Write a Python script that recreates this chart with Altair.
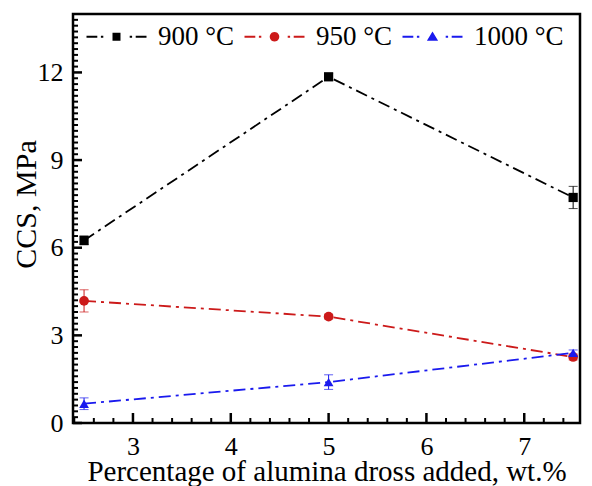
import altair as alt
import pandas as pd
import numpy as np
import math

# ---- data ----
x_vals = [2.5, 5.0, 7.5]
series_names = ["900 °C", "950 °C", "1000 °C"]
ccs_900 = [6.25, 11.85, 7.72]
err_900 = [0.15, 0.12, 0.38]
ccs_950 = [4.18, 3.64, 2.26]
err_950 = [0.38, 0.08, 0.10]
ccs_1000 = [0.66, 1.40, 2.40]
err_1000 = [0.20, 0.25, 0.10]

y_major = [0, 3, 6, 9, 12]
x_major = [3, 4, 5, 6, 7]
y_minor = [round(v, 1) for v in np.arange(0.2, 14.0, 0.2) if abs(v / 3 - round(v / 3)) > 1e-6]
x_minor = [round(v, 1) for v in np.arange(2.4, 7.6, 0.2) if abs(v - round(v)) > 1e-6]

colors = ["#000000", "#cc1a1a", "#1a1aee"]
marks = ["square", "circle", "triangle-up"]

rows = []
for name, ys_, es in zip(series_names, [ccs_900, ccs_950, ccs_1000], [err_900, err_950, err_1000]):
    for x, y, e in zip(x_vals, ys_, es):
        rows.append({"x": x, "y": y, "lo": y - e, "hi": y + e, "series": name})
df = pd.DataFrame(rows)

W, H = 507, 409
FONT = "Liberation Serif"
XDOM = [2.387, 7.57]
YDOM = [0, 14]

xs = alt.Scale(domain=XDOM, nice=False, zero=False)
ys = alt.Scale(domain=YDOM, nice=False, zero=False)
cs = alt.Scale(domain=series_names, range=colors)

# custom legend symbols: dash-dot line with marker in the middle
dash = ("M-7.5,-0.22L-4.8,-0.22L-4.8,0.22L-7.5,0.22Z M-3.9,-0.22L-3.3,-0.22L-3.3,0.22L-3.9,0.22Z "
        "M3.3,-0.22L3.9,-0.22L3.9,0.22L3.3,0.22Z M4.8,-0.22L7.5,-0.22L7.5,0.22L4.8,0.22Z ")
circ_pts = [(1.2 * math.cos(2 * math.pi * k / 20), 1.2 * math.sin(2 * math.pi * k / 20)) for k in range(20)]
circle_path = "M" + "L".join(f"{px:.3f},{py:.3f}" for px, py in circ_pts) + "Z"
sym_paths = [
    dash + "M-1,-1L1,-1L1,1L-1,1Z",
    dash + circle_path,
    dash + "M0,-1.3L1.4,1L-1.4,1Z",
]

xaxis = alt.Axis(values=x_major, ticks=False, domain=False, grid=False,
                 labelFont=FONT, labelFontSize=26, labelColor="black",
                 labelPadding=10, title="Percentage of alumina dross added, wt.%",
                 titleFont=FONT, titleFontSize=29, titleFontWeight="normal",
                 titleColor="black", titleBaseline="alphabetic", titleY=57)
yaxis = alt.Axis(values=y_major, ticks=False, domain=False, grid=False,
                 labelFont=FONT, labelFontSize=26, labelColor="black",
                 labelPadding=10, title="CCS, MPa",
                 titleFont=FONT, titleFontSize=30, titleFontWeight="normal",
                 titleColor="black", titleBaseline="bottom", titleX=-32, titleY=190)

legend = alt.Legend(
    orient="none", legendX=30, legendY=9, direction="horizontal", title=None,
    symbolSize=64, symbolStrokeWidth=0, symbolOpacity=1,
    labelFont=FONT, labelFontSize=27, labelColor="black", labelOffset=28,
    columnPadding=9)

color = alt.Color("series:N", scale=cs, legend=legend)

base = alt.Chart(df)

lines = base.mark_line(strokeDash=[12, 5, 3, 5], strokeWidth=1.8).encode(
    x=alt.X("x:Q", scale=xs, axis=xaxis),
    y=alt.Y("y:Q", scale=ys, axis=yaxis),
    color=color,
)

err_rule = base.mark_rule(strokeWidth=1).encode(
    x=alt.X("x:Q", scale=xs, axis=xaxis), y=alt.Y("lo:Q", scale=ys, axis=yaxis), y2="hi:Q",
    color=color,
)
cap_lo = base.mark_tick(orient="horizontal", size=9, thickness=1).encode(
    x=alt.X("x:Q", scale=xs, axis=xaxis), y=alt.Y("lo:Q", scale=ys, axis=yaxis),
    color=color,
)
cap_hi = base.mark_tick(orient="horizontal", size=9, thickness=1).encode(
    x=alt.X("x:Q", scale=xs, axis=xaxis), y=alt.Y("hi:Q", scale=ys, axis=yaxis),
    color=color,
)

point_layers = []
for name, shp, sz in zip(series_names, marks, [85, 95, 95]):
    point_layers.append(
        base.transform_filter(alt.datum.series == name)
        .mark_point(filled=True, shape=shp, size=sz, opacity=1)
        .encode(x=alt.X("x:Q", scale=xs, axis=xaxis), y=alt.Y("y:Q", scale=ys, axis=yaxis),
                color=color)
    )

legend_layer = base.transform_filter("false").mark_point(filled=True, opacity=1).encode(
    x=alt.X("x:Q", scale=xs, axis=xaxis), y=alt.Y("y:Q", scale=ys, axis=yaxis),
    color=color,
    shape=alt.Shape("series:N", scale=alt.Scale(domain=series_names, range=sym_paths),
                    legend=legend),
)

# inward ticks
ytick_major = alt.Chart(pd.DataFrame({"v": y_major})).mark_rule(strokeWidth=2.5, color="black").encode(
    y=alt.Y("v:Q", scale=ys, axis=yaxis), x=alt.value(0), x2=alt.value(9))
ytick_minor = alt.Chart(pd.DataFrame({"v": y_minor})).mark_rule(strokeWidth=2, color="black").encode(
    y=alt.Y("v:Q", scale=ys, axis=yaxis), x=alt.value(0), x2=alt.value(5))
xtick_major = alt.Chart(pd.DataFrame({"v": x_major})).mark_rule(strokeWidth=2.5, color="black").encode(
    x=alt.X("v:Q", scale=xs, axis=xaxis), y=alt.value(H), y2=alt.value(H - 10))
xtick_minor = alt.Chart(pd.DataFrame({"v": x_minor})).mark_rule(strokeWidth=2, color="black").encode(
    x=alt.X("v:Q", scale=xs, axis=xaxis), y=alt.value(H), y2=alt.value(H - 5))

chart = alt.layer(
    lines, err_rule, cap_lo, cap_hi, *point_layers, legend_layer,
    ytick_major, ytick_minor, xtick_major, xtick_minor,
).properties(
    width=W, height=H,
    autosize=alt.AutoSizeParams(type="none"),
    padding={"left": 65, "top": 6, "right": 4, "bottom": 63},
    background="white",
).configure_view(
    stroke="black", strokeWidth=2.5
)

chart.save("out.html", embed_options={"renderer": "svg", "actions": False})
